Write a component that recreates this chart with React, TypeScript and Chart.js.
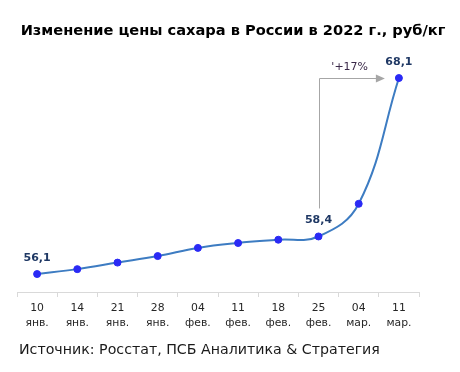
import React, { useEffect, useRef } from "react";
import { Chart, registerables } from "chart.js";

Chart.register(...registerables);

const days = ["10", "14", "21", "28", "04", "11", "18", "25", "04", "11"];
const months = ["янв.", "янв.", "янв.", "янв.", "фев.", "фев.", "фев.", "фев.", "мар.", "мар."];
const prices = [56.1, 56.4, 56.8, 57.2, 57.7, 58.0, 58.2, 58.4, 60.4, 68.1];
const labelledIdx = [0, 7, 9];
const growthText = "'+17%";
const titleText = "Изменение цены сахара в России в 2022 г., руб/кг";
const sourceText = "Источник: Росстат, ПСБ Аналитика & Стратегия";

const FONT = '"DejaVu Sans", Verdana, sans-serif';

export default function App() {
  const ref = useRef<HTMLCanvasElement | null>(null);

  useEffect(() => {
    const canvas = ref.current;
    if (!canvas) return;
    const labels = days.map((d, i) => [d, months[i]]);

    const overlay = {
      id: "overlay",
      afterDraw(chart: any) {
        const ctx = chart.ctx as CanvasRenderingContext2D;
        const meta = chart.getDatasetMeta(0);
        ctx.save();
        // title
        ctx.fillStyle = "#000000";
        ctx.font = `bold 14.6px ${FONT}`;
        ctx.textAlign = "center";
        ctx.textBaseline = "middle";
        ctx.fillText(titleText, 233, 31);
        // source
        ctx.fillStyle = "#1a1a1a";
        ctx.font = `14.2px ${FONT}`;
        ctx.textAlign = "left";
        ctx.fillText(sourceText, 19, 350);
        // annotation
        const p7 = meta.data[7];
        const p9 = meta.data[9];
        const topY = Math.round(p9.y) + 0.5;
        ctx.strokeStyle = "#a6a6a6";
        ctx.lineWidth = 1;
        ctx.beginPath();
        ctx.moveTo(Math.round(p7.x) + 0.5, p7.y - 28);
        ctx.lineTo(Math.round(p7.x) + 0.5, topY);
        const tipX = p9.x - 14;
        ctx.lineTo(tipX - 8, topY);
        ctx.stroke();
        ctx.fillStyle = "#a6a6a6";
        ctx.beginPath();
        ctx.moveTo(tipX, topY);
        ctx.lineTo(tipX - 9, topY - 4);
        ctx.lineTo(tipX - 9, topY + 4);
        ctx.closePath();
        ctx.fill();
        ctx.fillStyle = "#3a2848";
        ctx.font = `11px ${FONT}`;
        ctx.textAlign = "center";
        ctx.fillText(growthText, (p7.x + tipX) / 2 - 2, p9.y - 11);
        // data labels
        ctx.fillStyle = "#1f3864";
        ctx.font = `bold 11px ${FONT}`;
        for (const i of labelledIdx) {
          const pt = meta.data[i];
          ctx.fillText(prices[i].toFixed(1).replace(".", ","), pt.x, pt.y - 16);
        }
        ctx.restore();
      },
    };

    const chart = new Chart(canvas, {
      type: "line",
      data: {
        labels,
        datasets: [
          {
            data: prices,
            borderColor: "#3d7cc2",
            borderWidth: 2,
            tension: 0.4,
            pointRadius: 3.5,
            pointBackgroundColor: "#2a2af5",
            pointBorderColor: "#2a2af5",
            pointBorderWidth: 1,
            fill: false,
          },
        ],
      },
      options: {
        animation: false,
        responsive: false,
        devicePixelRatio: 1,
        layout: { autoPadding: false, padding: { left: 17, right: 41, top: 47, bottom: 37 } },
        plugins: {
          legend: { display: false },
          title: { display: false },
          tooltip: { enabled: false },
        },
        scales: {
          x: {
            offset: true,
            border: { display: true, color: "#d9d9d9", width: 1 },
            grid: {
              offset: true,
              drawOnChartArea: false,
              drawTicks: true,
              tickLength: 5,
              color: "#d9d9d9",
            },
            ticks: {
              color: "#262626",
              padding: 4,
              maxRotation: 0,
              autoSkip: false,
              font: { family: FONT, size: 10.8, lineHeight: "15px" as any },
            },
          },
          y: {
            display: false,
            min: 55,
            max: 70,
          },
        },
      },
      plugins: [overlay],
    });
    return () => chart.destroy();
  }, []);

  return (
    <div style={{ position: "fixed", left: 0, top: 0, width: 460, height: 372, background: "#fff" }}>
      <canvas ref={ref} width={460} height={372} style={{ width: 460, height: 372, display: "block" }} />
    </div>
  );
}
